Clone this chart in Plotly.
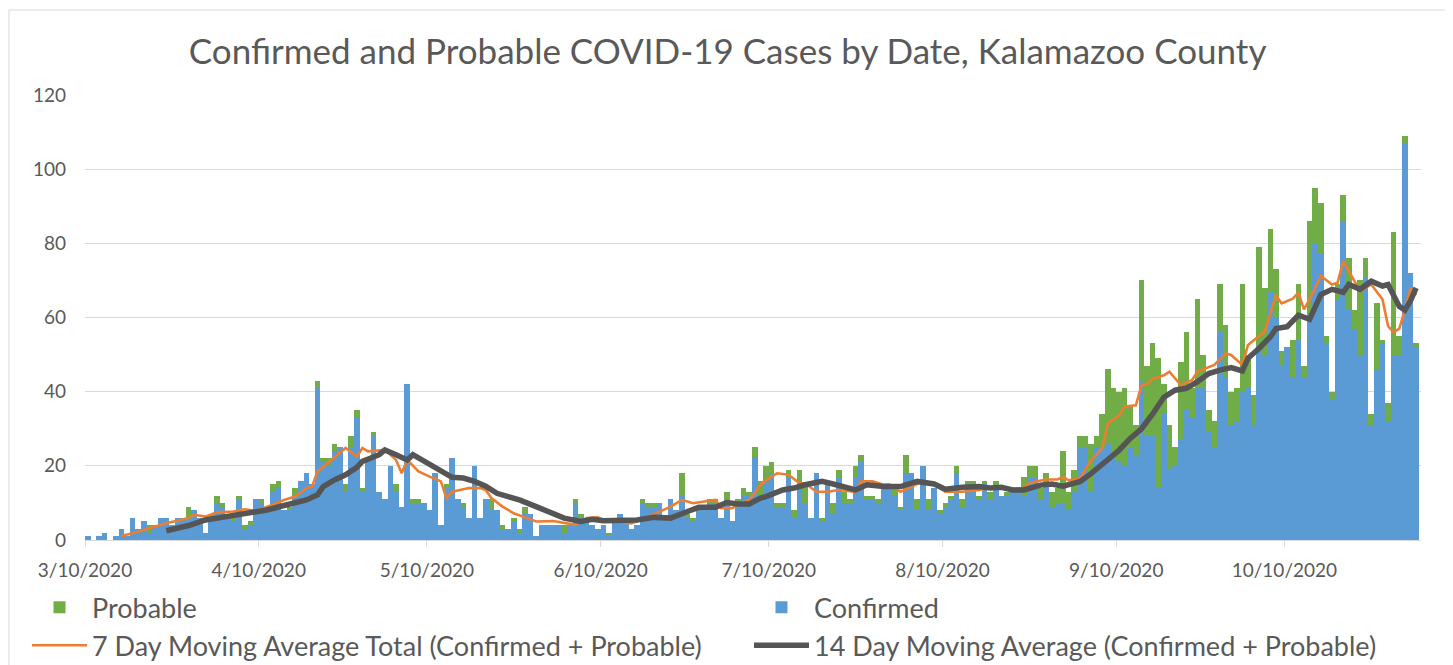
import pandas as pd
import plotly.graph_objects as go

start_date = "2020-03-10"

# daily confirmed and probable cases, starting 3/10/2020
confirmed = [
    1, 0, 1, 2, 0, 1, 3, 1, 6, 3, 5, 2, 4, 6, 6, 4, 6, 6, 6, 8, 6, 2,
    6, 10, 9, 7, 5, 11, 3, 4, 11, 10, 8, 13, 14, 8, 8, 12, 16, 18, 15, 41,
    21, 20, 24, 25, 13, 25, 33, 13, 21, 28, 13, 11, 20, 13, 9, 42, 10, 10, 10, 8,
    18, 4, 14, 22, 11, 9, 6, 20, 6, 11, 8, 8, 3, 3, 5, 2, 7, 7, 1, 4,
    4, 4, 4, 2, 4, 10, 6, 5, 4, 3, 4, 1, 6, 7, 5, 3, 4, 10, 9, 9,
    10, 6, 11, 8, 12, 6, 5, 9, 9, 10, 10, 6, 11, 5, 10, 12, 12, 22, 12, 16,
    18, 9, 9, 17, 6, 16, 10, 6, 18, 5, 15, 7, 17, 10, 10, 17, 21, 11, 11, 10,
    15, 14, 12, 8, 18, 18, 8, 20, 8, 14, 7, 9, 11, 18, 9, 15, 15, 11, 15, 11,
    14, 12, 12, 13, 13, 12, 17, 17, 11, 16, 9, 10, 10, 8, 13, 25, 25, 13, 25, 25,
    26, 22, 21, 20, 25, 23, 43, 28, 28, 14, 34, 19, 20, 27, 35, 33, 41, 41, 29, 25,
    56, 44, 31, 32, 40, 41, 31, 52, 50, 67, 60, 47, 52, 44, 54, 44, 60, 80, 77, 53,
    38, 65, 86, 62, 57, 50, 71, 31, 46, 53, 32, 50, 50, 107, 72, 52,
]
probable = [
    0, 0, 0, 0, 0, 0, 0, 0, 0, 0, 0, 2, 0, 0, 0, 0, 0, 0, 3, 0, 0, 0,
    1, 2, 1, 0, 1, 1, 1, 1, 0, 1, 0, 2, 2, 0, 1, 2, 0, 0, 0, 2,
    1, 2, 2, 0, 2, 3, 2, 1, 1, 1, 0, 0, 0, 2, 0, 0, 1, 1, 0, 0,
    0, 0, 1, 0, 0, 1, 0, 0, 0, 0, 3, 0, 1, 0, 1, 1, 2, 0, 0, 0,
    0, 0, 0, 2, 0, 1, 1, 0, 0, 0, 0, 1, 0, 0, 0, 0, 0, 1, 1, 1,
    0, 0, 0, 0, 6, 1, 1, 0, 0, 1, 1, 0, 2, 0, 1, 2, 1, 3, 4, 4,
    3, 1, 1, 2, 2, 3, 5, 0, 0, 1, 0, 3, 2, 3, 1, 3, 2, 1, 1, 1,
    0, 1, 2, 1, 5, 0, 3, 0, 3, 0, 1, 1, 1, 2, 2, 1, 1, 1, 1, 2,
    2, 0, 1, 0, 0, 5, 3, 3, 3, 2, 4, 4, 14, 5, 6, 3, 3, 13, 3, 9,
    20, 19, 19, 21, 11, 8, 27, 19, 25, 35, 8, 12, 5, 21, 21, 8, 24, 9, 6, 7,
    13, 14, 9, 9, 29, 9, 8, 27, 18, 17, 13, 4, 0, 10, 15, 3, 26, 15, 14, 2,
    2, 4, 7, 14, 5, 20, 5, 3, 18, 1, 5, 33, 5, 2, 0, 1,
]

# moving averages
ma7_dates = [
    "2020-03-16", "2020-03-19", "2020-03-21", "2020-03-24", "2020-03-28", "2020-03-29", "2020-03-31",
    "2020-04-02", "2020-04-05", "2020-04-07", "2020-04-09", "2020-04-12", "2020-04-14", "2020-04-16",
    "2020-04-18", "2020-04-19", "2020-04-20", "2020-04-22", "2020-04-24", "2020-04-25", "2020-04-27",
    "2020-04-28", "2020-04-29", "2020-05-02", "2020-05-04", "2020-05-05", "2020-05-06", "2020-05-08",
    "2020-05-10", "2020-05-12", "2020-05-13", "2020-05-14", "2020-05-17", "2020-05-19", "2020-05-20",
    "2020-05-21", "2020-05-23", "2020-05-25", "2020-05-27", "2020-05-29", "2020-06-01", "2020-06-03",
    "2020-06-05", "2020-06-07", "2020-06-09", "2020-06-10", "2020-06-12", "2020-06-15", "2020-06-18",
    "2020-06-20", "2020-06-22", "2020-06-24", "2020-06-26", "2020-06-28", "2020-06-30", "2020-07-01",
    "2020-07-03", "2020-07-04", "2020-07-06", "2020-07-07", "2020-07-08", "2020-07-10", "2020-07-11",
    "2020-07-13", "2020-07-15", "2020-07-16", "2020-07-18", "2020-07-20", "2020-07-22", "2020-07-25",
    "2020-07-26", "2020-07-28", "2020-07-30", "2020-07-31", "2020-08-02", "2020-08-04", "2020-08-06",
    "2020-08-08", "2020-08-10", "2020-08-13", "2020-08-16", "2020-08-19", "2020-08-21", "2020-08-24",
    "2020-08-25", "2020-08-26", "2020-08-28", "2020-08-30", "2020-08-31", "2020-09-01", "2020-09-03",
    "2020-09-05", "2020-09-07", "2020-09-08", "2020-09-10", "2020-09-11", "2020-09-13", "2020-09-14",
    "2020-09-15", "2020-09-16", "2020-09-18", "2020-09-19", "2020-09-21", "2020-09-23", "2020-09-24",
    "2020-09-27", "2020-09-29", "2020-09-30", "2020-10-02", "2020-10-03", "2020-10-06", "2020-10-08",
    "2020-10-09", "2020-10-11", "2020-10-12", "2020-10-13", "2020-10-14", "2020-10-16", "2020-10-18",
    "2020-10-19", "2020-10-20", "2020-10-21", "2020-10-23", "2020-10-25", "2020-10-27", "2020-10-28",
    "2020-10-29", "2020-10-30", "2020-10-31", "2020-11-01", "2020-11-02",
]
ma7_values = [
    1.1, 2.2, 3.2, 4.5, 5.9, 6.8, 6.3,
    7.5, 7.7, 8.3, 7.9, 9.5, 10.8, 11.7,
    14.0, 14.4, 18.5, 21.0, 23.4, 24.8, 22.5,
    24.8, 23.9, 24.3, 21.6, 18.0, 21.6, 18.5,
    17.1, 15.8, 11.3, 13.0, 14.0, 14.0, 13.5,
    11.3, 9.0, 7.2, 6.1, 5.0, 5.1, 4.7,
    4.1, 5.9, 6.1, 5.4, 5.0, 4.5, 6.3,
    7.7, 9.0, 10.8, 9.9, 10.4, 10.8, 8.6,
    8.6, 9.5, 10.8, 12.6, 14.9, 17.1, 18.0,
    17.6, 15.3, 15.3, 13.0, 13.0, 13.5, 13.0,
    15.8, 15.8, 14.9, 15.0, 13.0, 14.4, 15.8,
    14.9, 13.0, 13.0, 13.5, 14.4, 13.7, 14.0,
    15.3, 15.7, 16.3, 16.3, 17.0, 16.1, 16.6,
    21.5, 24.7, 31.4, 33.6, 36.0, 36.3, 41.7,
    42.0, 43.5, 44.4, 45.4, 41.8, 43.1, 45.4,
    47.2, 50.3, 49.9, 47.2, 52.6, 56.2, 66.0,
    63.8, 65.1, 66.7, 62.2, 64.9, 71.2, 68.9,
    69.4, 75.2, 72.5, 67.1, 68.9, 64.9, 57.7,
    56.0, 57.0, 62.0, 68.0, 66.0,
]

ma14_dates = [
    "2020-03-24", "2020-03-28", "2020-03-31", "2020-04-02", "2020-04-05", "2020-04-08", "2020-04-11",
    "2020-04-14", "2020-04-16", "2020-04-18", "2020-04-20", "2020-04-21", "2020-04-23", "2020-04-25",
    "2020-04-27", "2020-04-28", "2020-05-01", "2020-05-02", "2020-05-04", "2020-05-06", "2020-05-07",
    "2020-05-09", "2020-05-12", "2020-05-14", "2020-05-16", "2020-05-18", "2020-05-20", "2020-05-22",
    "2020-05-24", "2020-05-26", "2020-05-29", "2020-06-01", "2020-06-03", "2020-06-06", "2020-06-08",
    "2020-06-10", "2020-06-13", "2020-06-16", "2020-06-19", "2020-06-22", "2020-06-25", "2020-06-27",
    "2020-06-30", "2020-07-02", "2020-07-04", "2020-07-06", "2020-07-08", "2020-07-09", "2020-07-12",
    "2020-07-14", "2020-07-16", "2020-07-19", "2020-07-21", "2020-07-24", "2020-07-25", "2020-07-27",
    "2020-07-30", "2020-08-02", "2020-08-05", "2020-08-08", "2020-08-10", "2020-08-13", "2020-08-16",
    "2020-08-18", "2020-08-20", "2020-08-22", "2020-08-24", "2020-08-27", "2020-08-29", "2020-08-31",
    "2020-09-03", "2020-09-05", "2020-09-07", "2020-09-10", "2020-09-12", "2020-09-14", "2020-09-16",
    "2020-09-18", "2020-09-20", "2020-09-22", "2020-09-24", "2020-09-26", "2020-09-28", "2020-09-30",
    "2020-10-02", "2020-10-03", "2020-10-05", "2020-10-07", "2020-10-08", "2020-10-10", "2020-10-12",
    "2020-10-14", "2020-10-16", "2020-10-18", "2020-10-20", "2020-10-21", "2020-10-23", "2020-10-25",
    "2020-10-27", "2020-10-28", "2020-10-30", "2020-10-31", "2020-11-01", "2020-11-02",
]
ma14_values = [
    2.5, 3.9, 5.4, 5.9, 6.8, 7.4, 8.1,
    9.3, 10.0, 10.8, 12.2, 14.4, 16.2, 17.6,
    19.6, 21.2, 23.0, 24.3, 23.0, 21.6, 23.0,
    21.2, 18.9, 16.9, 16.7, 15.8, 14.5, 12.6,
    11.7, 10.8, 9.0, 7.2, 5.9, 5.0, 5.6,
    5.2, 5.2, 5.4, 6.1, 5.9, 7.7, 8.8,
    8.8, 10.1, 9.7, 9.7, 11.3, 11.7, 13.5,
    14.0, 14.9, 15.8, 15.1, 14.0, 13.5, 14.9,
    14.4, 14.4, 15.8, 15.1, 13.7, 14.2, 14.4,
    14.0, 14.2, 13.5, 13.5, 14.8, 15.1, 14.5,
    15.7, 17.9, 20.6, 24.2, 27.4, 30.0, 34.0,
    38.5, 40.4, 40.9, 42.7, 44.9, 45.8, 46.5,
    45.6, 49.0, 51.7, 54.8, 57.0, 57.5, 60.6,
    59.5, 66.2, 67.6, 66.8, 68.9, 67.6, 69.8,
    68.5, 68.9, 63.0, 62.0, 64.5, 68.0,
]

tick_dates = ["2020-03-10", "2020-04-10", "2020-05-10", "2020-06-10",
              "2020-07-10", "2020-08-10", "2020-09-10", "2020-10-10"]
tick_labels = ["3/10/2020", "4/10/2020", "5/10/2020", "6/10/2020",
               "7/10/2020", "8/10/2020", "9/10/2020", "10/10/2020"]
y_ticks = [0, 20, 40, 60, 80, 100, 120]

half_day = pd.Timedelta(hours=12)
bar_x = pd.date_range(start_date, periods=len(confirmed), freq="D") + half_day
ma7_x = pd.to_datetime(ma7_dates) + half_day
ma14_x = pd.to_datetime(ma14_dates) + half_day

FONT = "Lato, 'Open Sans', sans-serif"
TXT = "#595959"

fig = go.Figure()
fig.add_trace(go.Bar(x=bar_x, y=confirmed, name="Confirmed", legend="legend2",
                     marker=dict(color="#5B9BD5", line=dict(width=0)), legendrank=1))
fig.add_trace(go.Bar(x=bar_x, y=probable, name="Probable", legend="legend",
                     marker=dict(color="#70AD47", line=dict(width=0)), legendrank=1))
fig.add_trace(go.Scatter(x=ma7_x, y=ma7_values, mode="lines", legend="legend",
                         name="7 Day Moving Average Total (Confirmed + Probable)",
                         line=dict(color="#ED7D31", width=2.6), legendrank=2))
fig.add_trace(go.Scatter(x=ma14_x, y=ma14_values, mode="lines", legend="legend2",
                         name="14 Day Moving Average (Confirmed + Probable)",
                         line=dict(color="#555555", width=5.5), legendrank=2))

legend_common = dict(orientation="v", y=-0.097, yanchor="top", xanchor="left",
                     traceorder="normal", itemwidth=55, tracegroupgap=0,
                     font=dict(size=27, color=TXT, family=FONT),
                     bgcolor="rgba(0,0,0,0)")

fig.update_layout(
    width=1445, height=657,
    paper_bgcolor="white", plot_bgcolor="white",
    barmode="stack", bargap=0,
    margin=dict(l=77, r=32, t=87, b=125, autoexpand=False),
    font=dict(family=FONT, color=TXT),
    title=dict(text="Confirmed and Probable COVID-19 Cases by Date, Kalamazoo County",
               x=0.498, xanchor="center", xref="container",
               y=0.933, yanchor="middle", yref="container",
               font=dict(size=35, color=TXT, family=FONT)),
    xaxis=dict(type="date", range=["2020-03-10", "2020-11-03 09:00"],
               tickmode="array", tickvals=tick_dates, ticktext=tick_labels,
               showgrid=False, showline=True, linecolor="#D9D9D9", linewidth=1,
               ticks="outside", ticklen=6, tickcolor="#D9D9D9",
               ticklabelstandoff=7,
               tickfont=dict(size=19, color=TXT), zeroline=False, automargin=False),
    yaxis=dict(range=[0, 120], tickmode="array", tickvals=y_ticks,
               showgrid=True, gridcolor="#D9D9D9", gridwidth=1,
               zeroline=False, showline=False, ticks="",
               ticklabelstandoff=18, automargin=False,
               tickfont=dict(size=19, color=TXT)),
    legend=dict(legend_common, x=-0.0434),
    legend2=dict(legend_common, x=0.497),
    showlegend=True,
    shapes=[dict(type="rect", xref="paper", yref="paper",
                 x0=-0.0569, x1=1.0195, y0=-0.33, y1=1.191,
                 line=dict(color="#D9D9D9", width=1), fillcolor="rgba(0,0,0,0)",
                 layer="below")],
)

fig.write_html("out.html")
